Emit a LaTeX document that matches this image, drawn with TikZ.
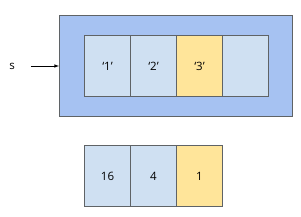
\documentclass[tikz,border=0pt]{standalone}
\usepackage{fontspec}
\setmainfont{Open Sans}
\definecolor{outerblue}{HTML}{A6C2F2}
\definecolor{cellblue}{HTML}{CFE0F2}
\definecolor{cellyellow}{HTML}{FFE59A}
\definecolor{edge}{HTML}{5F6366}
\begin{document}
\begin{tikzpicture}[x=1pt,y=-1pt,
  outerbox/.style={draw=edge,fill=outerblue,line width=1pt},
  cell/.style={draw=edge,fill=cellblue,line width=1pt,minimum width=46pt,minimum height=61pt,inner sep=0pt,anchor=north west,font=\fontsize{11.5}{13}\selectfont},
  ycell/.style={cell,fill=cellyellow},
  arr/.style={-latex,line width=0.6pt}]
\useasboundingbox[fill=white] (0,0) rectangle (301,217);
\node[outerbox,minimum width=233pt,minimum height=101pt,inner sep=0pt,anchor=north west] (outer) at (59,15) {};
\node[cell] (c1) at (84,35) {‘1’};
\node[cell] (c2) at (130,35) {‘2’};
\node[ycell] (c3) at (176,35) {‘3’};
\node[cell] (c4) at (222,35) {};
\node[cell] (d1) at (84,145) {16};
\node[cell] (d2) at (130,145) {4};
\node[ycell] (d3) at (176,145) {1};
\node[font=\fontsize{11.5}{13}\selectfont,inner sep=0pt] (s) at (12,66) {s};
\coordinate (start) at (31,66);
\draw[arr] (start) -- (outer.west |- start);
\end{tikzpicture}
\end{document}
